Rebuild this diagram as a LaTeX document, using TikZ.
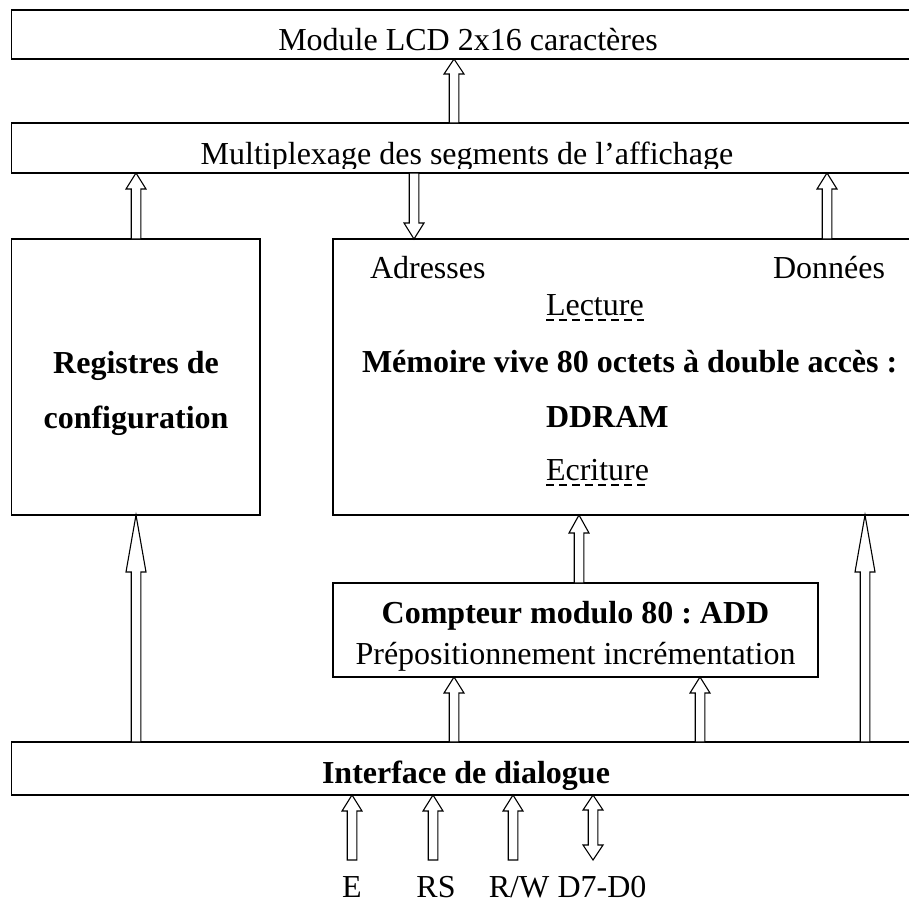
\documentclass[tikz,border=0pt]{standalone}
\usepackage{fontspec}
\setmainfont{Liberation Serif}
\usetikzlibrary{calc}
\frenchspacing
\tikzset{
  box/.style={draw, line width=1.3pt, inner sep=0pt, outer sep=0pt, anchor=north west},
  txt/.style={inner sep=0pt, outer sep=0pt, font=\fontsize{32}{38}\selectfont},
  btxt/.style={inner sep=0pt, outer sep=0pt, font=\fontsize{32}{38}\selectfont\bfseries},
  blockarrow/.style={draw, fill=white, line width=1.1pt, line join=miter},
  dashline/.style={line width=1.2pt, dash pattern=on 8pt off 5pt},
}
% hollow block arrows: #1 tail point, #2 tip point, #3 head length
\newcommand{\arrup}[3]{\draw[blockarrow] let \p1=(#1), \p2=(#2) in
  (\x1-4.8pt,\y1) -- (\x1-4.8pt,\y2-#3) -- (\x1-10pt,\y2-#3) -- (\x1,\y2)
  -- (\x1+10pt,\y2-#3) -- (\x1+4.8pt,\y2-#3) -- (\x1+4.8pt,\y1) -- cycle;}
\newcommand{\arrdown}[3]{\draw[blockarrow] let \p1=(#1), \p2=(#2) in
  (\x1-4.8pt,\y1) -- (\x1-4.8pt,\y2+#3) -- (\x1-10pt,\y2+#3) -- (\x1,\y2)
  -- (\x1+10pt,\y2+#3) -- (\x1+4.8pt,\y2+#3) -- (\x1+4.8pt,\y1) -- cycle;}
% double arrow: #1 upper tip, #2 lower tip
\newcommand{\arrboth}[3]{\draw[blockarrow] let \p1=(#1), \p2=(#2) in
  (\x1,\y1) -- (\x1+10pt,\y1-#3) -- (\x1+4.8pt,\y1-#3) -- (\x1+4.8pt,\y2+#3)
  -- (\x1+10pt,\y2+#3) -- (\x1,\y2) -- (\x1-10pt,\y2+#3) -- (\x1-4.8pt,\y2+#3)
  -- (\x1-4.8pt,\y1-#3) -- (\x1-10pt,\y1-#3) -- cycle;}
\begin{document}
\begin{tikzpicture}[x=1pt,y=-1pt]
\useasboundingbox (0,0) rectangle (909,903);
\clip (0,0) rectangle (909,903);
\fill[white] (0,0) rectangle (909,903);

% boxes
\node[box, minimum width=920pt, minimum height=49pt] (lcd) at (11.5,10) {};
\node[box, minimum width=920pt, minimum height=50pt] (mux) at (11.5,123) {};
\node[box, minimum width=248.5pt, minimum height=276pt] (reg) at (11.5,239) {};
\node[box, minimum width=600pt, minimum height=276pt] (ddram) at (333,239) {};
\node[box, minimum width=485pt, minimum height=94pt] (cpt) at (333,583) {};
\node[box, minimum width=920pt, minimum height=53pt] (itf) at (11.5,742) {};

% texts
\node[txt, anchor=base] (tlcd) at (468,50) {Module LCD 2x16 caractères};
\begin{scope}
  \clip (0,124) rectangle (909,168);
  \node[txt, anchor=base] (tmux) at (467,164) {Multiplexage des segments de l’affichage};
\end{scope}
\node[btxt, anchor=base] (treg1) at (136,373) {Registres de};
\node[btxt, anchor=base] (treg2) at (136,428) {configuration};
\node[txt, anchor=base west] (tadr) at (370,278) {Adresses};
\node[txt, anchor=base west] (tdon) at (773,278) {Données};
\node[txt, anchor=base west] (tlec) at (546,315) {Lecture};
\node[btxt, anchor=base west] (tmem) at (362,372) {Mémoire vive 80 octets à double accès :};
\node[btxt, anchor=base west] (tdd) at (546,427) {DDRAM};
\node[txt, anchor=base west] (tecr) at (546,480) {Ecriture};
\draw[dashline] ($(tlec.base west)+(0,5)$) -- ($(tlec.base east)+(0,5)$);
\draw[dashline] ($(tecr.base west)+(0,5)$) -- ($(tecr.base east)+(0,5)$);
\node[btxt, anchor=base] (tcpt1) at (575.5,623) {Compteur modulo 80 : ADD};
\node[txt, anchor=base] (tcpt2) at (575.5,664) {Prépositionnement incrémentation};
\begin{scope}
  \clip (0,743) rectangle (909,789);
  \node[btxt, anchor=base] (titf) at (466,783) {Interface de dialogue};
\end{scope}
\node[txt, anchor=base] (lE) at (352,897) {E};
\node[txt, anchor=base] (lRS) at (436,897) {RS};
\node[txt, anchor=base] (lRW) at (519,897) {R/W};
\node[txt, anchor=base] (lD) at (602,897) {D7-D0};

% arrow columns
\coordinate (xl) at (136,0);
\coordinate (xm) at (454,0);
\coordinate (xd) at (414,0);
\coordinate (xr) at (827,0);
\coordinate (xc) at (579,0);
\coordinate (xc1) at (454,0);
\coordinate (xc2) at (700,0);
\coordinate (xrr) at (865,0);
\coordinate (pE) at (352,860);
\coordinate (pRS) at (433,860);
\coordinate (pRW) at (513,860);
\coordinate (pD) at (593,860);

% arrows
\arrup{xm |- mux.north}{xm |- lcd.south}{15pt}
\arrup{xl |- reg.north}{xl |- mux.south}{16pt}
\arrdown{xd |- mux.south}{xd |- ddram.north}{16pt}
\arrup{xr |- ddram.north}{xr |- mux.south}{16pt}
\arrup{xc |- cpt.north}{xc |- ddram.south}{18pt}
\arrup{xl |- itf.north}{xl |- reg.south}{57pt}
\arrup{xc1 |- itf.north}{xc1 |- cpt.south}{16pt}
\arrup{xc2 |- itf.north}{xc2 |- cpt.south}{16pt}
\arrup{xrr |- itf.north}{xrr |- ddram.south}{57pt}
\arrup{pE}{pE |- itf.south}{16pt}
\arrup{pRS}{pRS |- itf.south}{16pt}
\arrup{pRW}{pRW |- itf.south}{16pt}
\arrboth{pD |- itf.south}{pD}{15pt}
\end{tikzpicture}
\end{document}
